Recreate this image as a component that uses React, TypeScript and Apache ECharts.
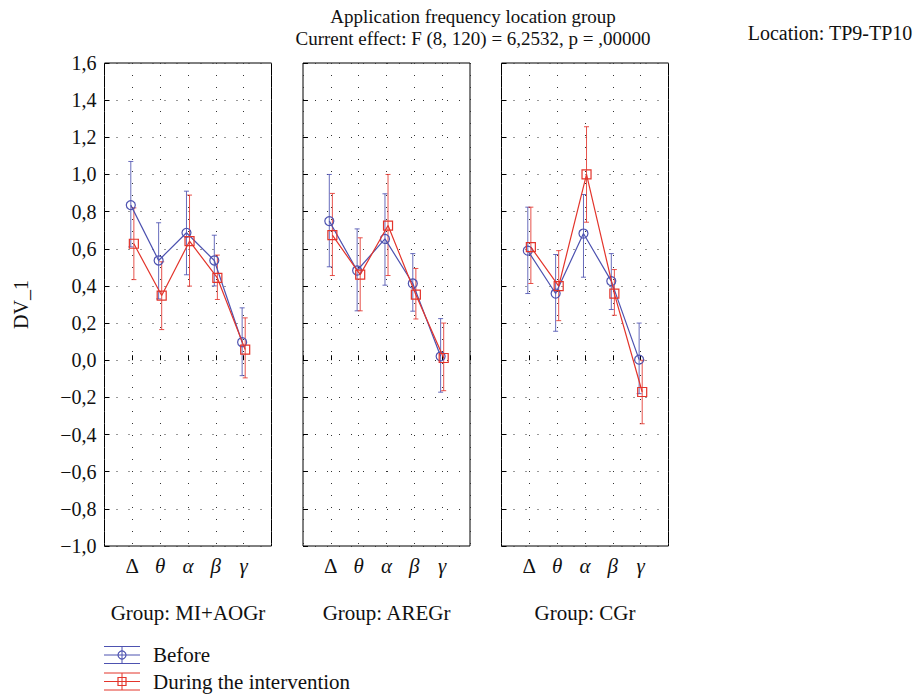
import React, { useEffect, useRef } from "react";
import * as echarts from "echarts";

const categories = ["Δ", "θ", "α", "β", "γ"];
const groupNames = ["Group: MI+AOGr", "Group: AREGr", "Group: CGr"];
const yTicks = { min: -1.0, max: 1.6, step: 0.2 };

// Before (blue): mean, lower, upper per group
const beforeMean = [
  [0.835, 0.537, 0.686, 0.537, 0.097],
  [0.749, 0.483, 0.653, 0.413, 0.021],
  [0.59, 0.359, 0.682, 0.426, 0.003],
];
const beforeLow = [
  [0.61, 0.33, 0.46, 0.4, -0.083],
  [0.503, 0.266, 0.404, 0.264, -0.172],
  [0.359, 0.156, 0.447, 0.273, -0.18],
];
const beforeHigh = [
  [1.07, 0.74, 0.91, 0.673, 0.282],
  [1.0, 0.707, 0.896, 0.574, 0.224],
  [0.824, 0.569, 0.892, 0.574, 0.2],
];

// During the intervention (red)
const duringMean = [
  [0.627, 0.348, 0.641, 0.443, 0.057],
  [0.673, 0.461, 0.725, 0.353, 0.012],
  [0.609, 0.399, 1.0, 0.359, -0.171],
];
const duringLow = [
  [0.434, 0.165, 0.399, 0.327, -0.095],
  [0.456, 0.266, 0.456, 0.222, -0.164],
  [0.413, 0.213, 0.743, 0.242, -0.342],
];
const duringHigh = [
  [0.82, 0.53, 0.889, 0.566, 0.228],
  [0.898, 0.659, 1.0, 0.494, 0.2],
  [0.824, 0.59, 1.257, 0.488, 0.0],
];

const BLUE = "#4d52b0";
const RED = "#e3342b";
const FONT = "Liberation Serif";
const TXT = "#111";

const fmt = (v: number) => {
  const r = Math.round(v * 10) / 10;
  return (r < 0 ? "\u2212" : "") + Math.abs(r).toFixed(1).replace(".", ",");
};

export default function App() {
  const ref = useRef<HTMLDivElement>(null);
  useEffect(() => {
    if (!ref.current) return;
    const chart = echarts.init(ref.current, undefined, { renderer: "svg" });
    const lefts = [104.5, 303, 501.5];
    const W = 167;
    const top = 63;
    const H = 483;
    const grids = lefts.map((l) => ({
      left: l,
      top,
      width: W,
      height: H,
      show: true,
      borderColor: "#000",
      borderWidth: 1,
      backgroundColor: "transparent",
    }));
    const dotted = { color: "#333", width: 1, type: [1, 11] as number[] };
    const xAxes = lefts.map((_, i) => ({
      type: "value",
      gridIndex: i,
      min: 0,
      max: 6,
      interval: 1,
      axisLine: { show: false },
      axisTick: { show: true, inside: true, length: 5, lineStyle: { color: "#000" } },
      splitLine: { show: true, lineStyle: dotted },
      axisLabel: {
        margin: 9,
        formatter: (v: number) => {
          const c = categories[Math.round(v) - 1];
          if (!c) return "";
          return c === "Δ" ? `{u|${c}}` : `{i|${c}}`;
        },
        rich: {
          u: { fontFamily: FONT, fontSize: 21, color: TXT },
          i: { fontFamily: FONT, fontSize: 21, fontStyle: "italic", color: TXT },
        },
      },
      name: groupNames[i],
      nameLocation: "middle",
      nameGap: 56,
      nameTextStyle: { fontFamily: FONT, fontSize: 21, color: TXT },
    }));
    const yAxes = lefts.map((_, i) => ({
      type: "value",
      gridIndex: i,
      min: yTicks.min,
      max: yTicks.max,
      interval: yTicks.step,
      axisLine: { show: false },
      axisTick: { show: true, inside: true, length: 5, lineStyle: { color: "#000" } },
      splitLine: { show: true, lineStyle: dotted },
      axisLabel: {
        show: i === 0,
        formatter: fmt,
        fontFamily: FONT,
        fontSize: 20,
        color: TXT,
        margin: 8,
      },
      name: i === 0 ? "DV_1" : "",
      nameLocation: "middle",
      nameGap: 74,
      nameTextStyle: { fontFamily: FONT, fontSize: 20, color: TXT },
    }));

    const errSeries = (data: number[][], color: string, gi: number) => ({
      type: "custom",
      xAxisIndex: gi,
      yAxisIndex: gi,
      data,
      encode: { x: 0, y: [1, 2] },
      z: 2,
      renderItem: (_p: any, api: any) => {
        const x = api.value(0);
        const a = api.coord([x, api.value(1)]);
        const b = api.coord([x, api.value(2)]);
        const w = 2.5;
        const st = { stroke: color, lineWidth: 1, opacity: 0.85 };
        return {
          type: "group",
          children: [
            { type: "line", shape: { x1: a[0], y1: a[1], x2: b[0], y2: b[1] }, style: st },
            { type: "line", shape: { x1: a[0] - w, y1: a[1], x2: a[0] + w, y2: a[1] }, style: st },
            { type: "line", shape: { x1: b[0] - w, y1: b[1], x2: b[0] + w, y2: b[1] }, style: st },
          ],
        };
      },
    });

    const series: any[] = [];
    for (let g = 0; g < 3; g++) {
      const bx = (k: number) => k + 1 - 0.055;
      const rx = (k: number) => k + 1 + 0.055;
      series.push(
        errSeries(
          categories.map((_, k) => [bx(k), beforeLow[g][k], beforeHigh[g][k]]),
          BLUE,
          g
        )
      );
      series.push(
        errSeries(
          categories.map((_, k) => [rx(k), duringLow[g][k], duringHigh[g][k]]),
          RED,
          g
        )
      );
      series.push({
        type: "line",
        name: "Before",
        xAxisIndex: g,
        yAxisIndex: g,
        data: categories.map((_, k) => [bx(k), beforeMean[g][k]]),
        symbol: "circle",
        symbolSize: 9,
        showAllSymbol: true,
        lineStyle: { color: BLUE, width: 1.2 },
        itemStyle: { color: "transparent", borderColor: BLUE, borderWidth: 1.2 },
        z: 3,
      });
      series.push({
        type: "line",
        name: "During the intervention",
        xAxisIndex: g,
        yAxisIndex: g,
        data: categories.map((_, k) => [rx(k), duringMean[g][k]]),
        symbol: "rect",
        symbolSize: 9,
        showAllSymbol: true,
        lineStyle: { color: RED, width: 1.2 },
        itemStyle: { color: "transparent", borderColor: RED, borderWidth: 1.2 },
        z: 4,
      });
    }

    const legendItem = (y: number, color: string, label: string, circle: boolean) => ({
      type: "group",
      children: [
        { type: "line", shape: { x1: 104, y1: y - 8.5, x2: 140, y2: y - 8.5 }, style: { stroke: color, lineWidth: 1 } },
        { type: "line", shape: { x1: 104, y1: y, x2: 140, y2: y }, style: { stroke: color, lineWidth: 1 } },
        { type: "line", shape: { x1: 104, y1: y + 8.5, x2: 140, y2: y + 8.5 }, style: { stroke: color, lineWidth: 1 } },
        { type: "line", shape: { x1: 122, y1: y - 8.5, x2: 122, y2: y + 8.5 }, style: { stroke: color, lineWidth: 1 } },
        circle
          ? { type: "circle", shape: { cx: 122, cy: y, r: 4 }, style: { fill: "transparent", stroke: color, lineWidth: 1.2 } }
          : { type: "rect", shape: { x: 118, y: y - 4, width: 8, height: 8 }, style: { fill: "transparent", stroke: color, lineWidth: 1.2 } },
        {
          type: "text",
          x: 153,
          y,
          style: { text: label, fontFamily: FONT, fontSize: 21, fill: TXT, verticalAlign: "middle" },
        },
      ],
    });

    chart.setOption({
      animation: false,
      backgroundColor: "#fff",
      title: [
        {
          text: "Application frequency location group\nCurrent effect: F (8, 120) = 6,2532, p = ,00000",
          left: 468,
          top: 0,
          textAlign: "center",
          textStyle: { fontFamily: FONT, fontSize: 19, fontWeight: "normal", lineHeight: 22, color: TXT },
        },
        {
          text: "Location: TP9-TP10",
          left: 825,
          top: 18,
          textAlign: "center",
          textStyle: { fontFamily: FONT, fontSize: 20, fontWeight: "normal", color: TXT },
        },
      ],
      grid: grids,
      xAxis: xAxes,
      yAxis: yAxes,
      series,
      graphic: [legendItem(655, BLUE, "Before", true), legendItem(681.5, RED, "During the intervention", false)],
    });
    return () => chart.dispose();
  }, []);
  return (
    <div
      ref={ref}
      style={{ position: "fixed", left: 0, top: 0, width: 914, height: 697, background: "#fff" }}
    />
  );
}
